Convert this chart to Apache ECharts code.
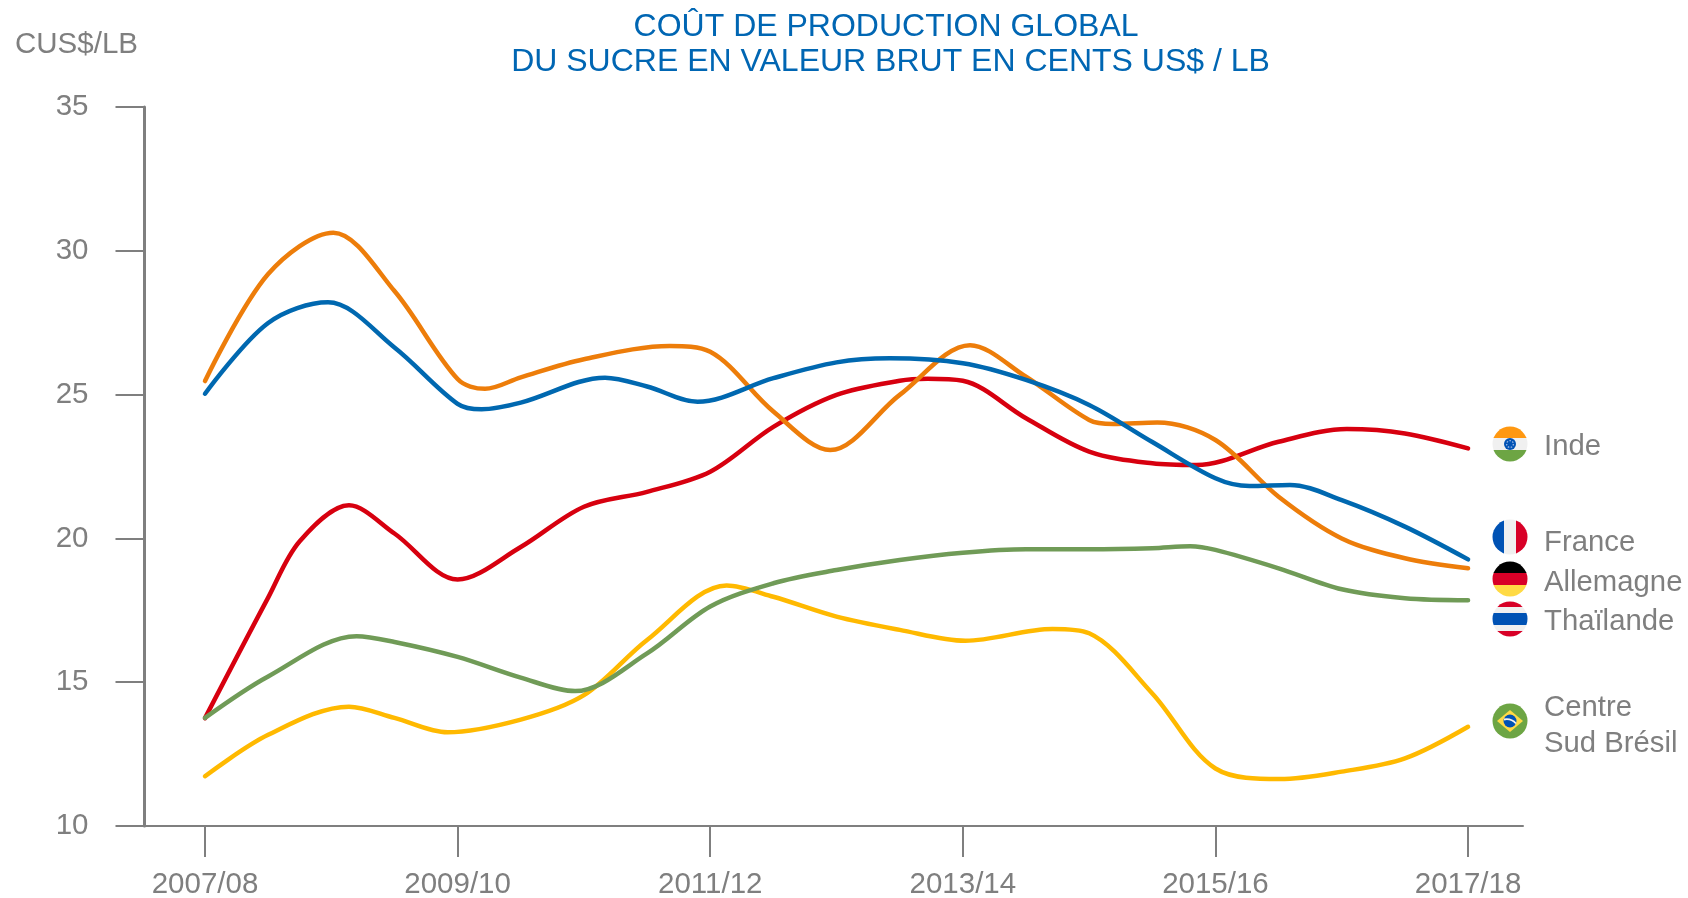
<!DOCTYPE html>
<html>
<head>
<meta charset="utf-8">
<title>Coût de production global du sucre</title>
<style>
html, body { margin: 0; padding: 0; background: #fff; }
#chart { width: 1688px; height: 898px; }
</style>
<script src="https://cdn.jsdelivr.net/npm/echarts@6/dist/echarts.min.js"></script>
</head>
<body>
<div id="chart"></div>
<script>
const campaigns = ['2007/08', '2009/10', '2011/12', '2013/14', '2015/16', '2017/18'];
const campaignPositions = [0, 2, 4, 6, 8, 10];

// values; x is in years since 2007/08, with the curve's turning points added
const indeX = [0, 0.5, 0.75, 1.14, 1.5, 2, 2.5, 3, 3.5, 4, 4.5, 5, 5.5, 5.72, 6, 6.5, 7, 7.5, 7.85, 8.5, 9.04, 9.5, 10];
const inde = [13.75, 17.94, 19.9, 21.15, 20.17, 18.57, 19.7, 21.1, 21.62, 22.32, 23.88, 24.99, 25.48, 25.55, 25.48, 24.18, 23.02, 22.61, 22.55, 23.36, 23.8, 23.65, 23.13];

const franceX = [0, 0.5, 0.974, 1.5, 2, 2.19, 2.5, 3.167, 3.5, 3.9, 4.5, 5, 5.42, 6, 6.5, 7, 7.5, 8, 8.27, 8.59, 9, 9.5, 10];
const france = [25.03, 27.49, 28.21, 26.64, 24.68, 24.49, 24.72, 25.59, 25.28, 24.75, 25.57, 26.12, 26.26, 26.09, 25.51, 24.64, 23.35, 22.09, 21.82, 21.86, 21.33, 20.41, 19.27];

const allemagneX = [0, 0.5, 1.016, 1.5, 2, 2.217, 2.5, 3, 3.68, 4, 4.5, 4.95, 5.5, 6.057, 6.5, 7, 7.19, 7.54, 8, 8.5, 9, 9.5, 10];
const allemagne = [25.47, 29.19, 30.63, 28.6, 25.54, 25.2, 25.6, 26.23, 26.69, 26.49, 24.41, 23.07, 24.99, 26.72, 25.62, 24.12, 23.98, 24.03, 23.42, 21.45, 20.0, 19.31, 18.96];

const thailandeX = [0, 0.5, 1.2, 1.5, 2, 2.5, 2.93, 3.5, 4, 4.5, 5, 5.5, 6, 6.5, 7, 7.5, 7.8, 8, 8.5, 9, 9.5, 10];
const thailande = [13.76, 15.2, 16.6, 16.4, 15.88, 15.16, 14.69, 16.0, 17.63, 18.44, 18.9, 19.25, 19.5, 19.62, 19.62, 19.66, 19.73, 19.6, 18.96, 18.23, 17.92, 17.85];

const bresilX = [0, 0.5, 1.14, 1.5, 1.92, 2.5, 3, 3.5, 4.13, 4.5, 5, 5.5, 6.02, 6.71, 7, 7.5, 8, 8.51, 9, 9.5, 10];
const bresil = [11.73, 13.17, 14.15, 13.76, 13.26, 13.7, 14.55, 16.47, 18.36, 17.97, 17.28, 16.82, 16.44, 16.85, 16.7, 14.61, 12.0, 11.63, 11.89, 12.35, 13.45];

const GREY = '#7f7f7f';
const FONT = '"Liberation Sans", Arial, sans-serif';

const line = (name, xs, vals, color) => ({
    name: name,
    type: 'line',
    data: vals.map((v, i) => [xs[i], v]),
    smooth: 0.33,
    showSymbol: false,
    silent: true,
    lineStyle: { color: color, width: 4.5, cap: 'round' }
});

// small round flags as inline svg
const flag = (inner) => 'data:image/svg+xml;utf8,' + encodeURIComponent(
    '<svg xmlns="http://www.w3.org/2000/svg" width="36" height="36" viewBox="0 0 36 36">' +
    '<defs><clipPath id="c"><circle cx="18" cy="18" r="17.5"/></clipPath></defs>' +
    '<g clip-path="url(#c)">' + inner + '</g></svg>');

const band = (x, y, w, h, c) => `<rect x="${x}" y="${y}" width="${w}" height="${h}" fill="${c}"/>`;

const flags = [
    { y: 444, src: flag(band(0, 0, 36, 12, '#ff9811') + band(0, 12, 36, 12, '#f0f0f0') + band(0, 24, 36, 12, '#6da544') +
        '<circle cx="18" cy="18" r="6" fill="#0052b4"/><circle cx="18" cy="18" r="3.4" fill="none" stroke="#8fb0e0" stroke-width="1.4" stroke-dasharray="1.5 1.5"/>') },
    { y: 537, src: flag(band(0, 0, 12, 36, '#0052b4') + band(12, 0, 12, 36, '#f0f0f0') + band(24, 0, 12, 36, '#d80027')) },
    { y: 579, src: flag(band(0, 0, 36, 12, '#000') + band(0, 12, 36, 12, '#d80027') + band(0, 24, 36, 12, '#ffda44')) },
    { y: 619, src: flag(band(0, 0, 36, 6, '#d80027') + band(0, 6, 36, 6, '#f0f0f0') + band(0, 12, 36, 12, '#0052b4') + band(0, 24, 36, 6, '#f0f0f0') + band(0, 30, 36, 6, '#d80027')) },
    { y: 721, src: flag(band(0, 0, 36, 36, '#6da544') + '<polygon points="18,7 31,18 18,29 5,18" fill="#ffda44"/>' +
        '<circle cx="18" cy="18" r="6.5" fill="#0052b4"/><path d="M12 16.5 Q19 15 24 20.5" stroke="#f0f0f0" stroke-width="1.8" fill="none"/>') }
];

const labels = [
    { text: 'Inde', y: 447 },
    { text: 'France', y: 543 },
    { text: 'Allemagne', y: 583 },
    { text: 'Thaïlande', y: 622 },
    { text: 'Centre', y: 708 },
    { text: 'Sud Brésil', y: 744 }
];

const myChart = echarts.init(document.getElementById('chart'), null, { renderer: 'canvas' });

const option = {
    animation: false,
    backgroundColor: '#fff',
    title: {
        text: 'COÛT DE PRODUCTION GLOBAL \nDU SUCRE EN VALEUR BRUT EN CENTS US$ / LB',
        left: 885.5,
        top: 5,
        textAlign: 'center',
        textStyle: { color: '#0066b3', fontFamily: FONT, fontSize: 32, fontWeight: 'normal', lineHeight: 35 }
    },
    grid: { left: 144.5, top: 107, width: 1378.5, height: 719, outerBoundsMode: 'none' },
    xAxis: {
        type: 'value',
        min: -0.479,
        max: 10.435,
        splitLine: { show: false },
        axisLine: { lineStyle: { color: GREY, width: 2 } },
        axisTick: { customValues: campaignPositions, length: 31, lineStyle: { color: GREY, width: 2 } },
        axisLabel: {
            customValues: campaignPositions,
            formatter: (v) => campaigns[campaignPositions.indexOf(v)],
            margin: 44,
            color: GREY,
            fontFamily: FONT,
            fontSize: 29.5
        }
    },
    yAxis: {
        type: 'value',
        min: 10,
        max: 35,
        interval: 5,
        splitLine: { show: false },
        axisLine: { show: true, onZero: false, lineStyle: { color: GREY, width: 3 } },
        axisTick: { length: 29, lineStyle: { color: GREY, width: 2 } },
        axisLabel: { margin: 56, color: GREY, fontFamily: FONT, fontSize: 29.5, showMinLabel: true, padding: [0, 0, 6, 0] }
    },
    series: [
        line('Inde', indeX, inde, '#d7000f'),
        line('Allemagne', allemagneX, allemagne, '#ed7d0a'),
        line('France', franceX, france, '#0068b0'),
        line('Centre Sud Brésil', bresilX, bresil, '#ffb900'),
        line('Thaïlande', thailandeX, thailande, '#709b57')
    ],
    graphic: [
        {
            type: 'text',
            left: 15,
            top: 30,
            style: { text: 'CUS$/LB', fill: GREY, font: '29.5px ' + FONT }
        },
        ...flags.map((f) => ({
            type: 'image',
            x: 1492,
            y: f.y - 18,
            style: { image: f.src, width: 36, height: 36 }
        })),
        ...labels.map((l) => ({
            type: 'text',
            x: 1544,
            y: l.y,
            style: { text: l.text, fill: GREY, font: '29.3px ' + FONT, verticalAlign: 'middle' }
        }))
    ]
};

myChart.setOption(option);
</script>
</body>
</html>
